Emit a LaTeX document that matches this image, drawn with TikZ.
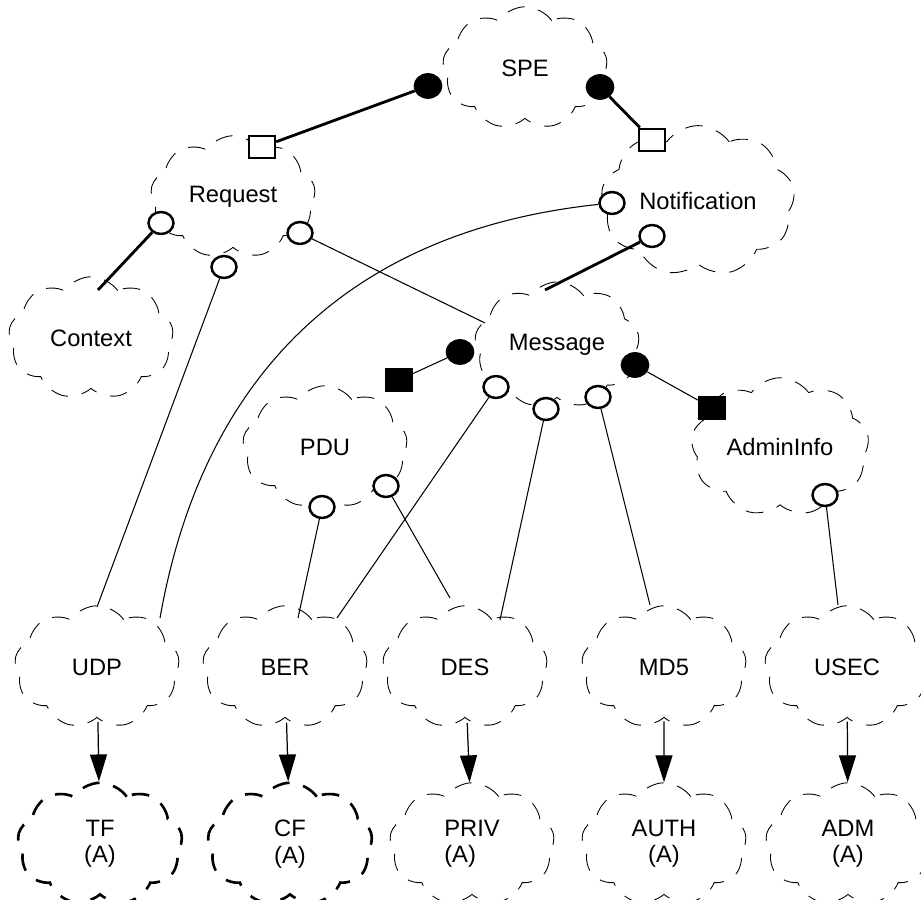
\documentclass[tikz,border=0pt]{standalone}
\usepackage{fontspec}
\setmainfont{Liberation Sans}
\usetikzlibrary{shapes.symbols,shapes.geometric,arrows.meta}

\begin{document}
\begin{tikzpicture}[
    font=\fontsize{13.5}{15}\selectfont,
    class/.style={cloud, cloud puffs=9, cloud puff arc=110, aspect=1.45, draw, dash pattern=on 10pt off 8pt, line width=0.5pt, minimum width=3.3cm, minimum height=2.45cm, align=center},
    utility/.style={class, line width=1.5pt},
    hasend/.style={ellipse, fill=black, draw, line width=1pt, minimum width=0.54cm, minimum height=0.48cm, inner sep=0pt},
    uses/.style={ellipse, fill=white, draw, line width=1.4pt, minimum width=0.5cm, minimum height=0.44cm, inner sep=0pt},
    byref/.style={rectangle, fill=white, draw, line width=1.4pt, minimum width=0.52cm, minimum height=0.45cm, inner sep=0pt},
    byval/.style={rectangle, fill=black, draw, line width=1pt, minimum width=0.52cm, minimum height=0.45cm, inner sep=0pt},
    link/.style={line width=0.6pt},
    strong/.style={line width=1.6pt},
    instantiate/.style={line width=0.7pt, -{Triangle[length=0.54cm, width=0.34cm]}, shorten <=2pt}
]
\useasboundingbox (0,0) rectangle (18.42,17.98);

% Classes
\node[class] (spe) at (10.5,16.62) {SPE};
\node[class] (request) at (4.66,14.04) {Request};
\node[class] (notification) at (13.96,13.96) {Notification};
\node[class] (context) at (1.82,11.22) {Context};
\node[class] (message) at (11.14,11.08) {Message};
\node[class] (pdu) at (6.5,9.04) {PDU};
\node[class] (admininfo) at (15.6,9.04) {AdminInfo};

\node[class] (udp) at (1.94,4.64) {UDP};
\node[class] (ber) at (5.7,4.64) {BER};
\node[class] (des) at (9.3,4.64) {DES};
\node[class] (md5) at (13.28,4.64) {MD5};
\node[class] (usec) at (16.94,4.64) {USEC};

% Utilities
\node[utility] (tf) at (2.0,1.1) {TF\\(A)};
\node[utility] (cf) at (5.8,1.1) {CF\\(A)};
\node[class, align=left] (priv) at (9.44,1.1) {PRIV\\(A)};
\node[class] (auth) at (13.28,1.1) {AUTH\\(A)};
\node[class] (adm) at (16.96,1.1) {ADM\\(A)};

% Free ends
\coordinate (context-top) at (1.96,12.18);
\coordinate (udp-top) at (1.94,5.84);
\coordinate (udp-right) at (3.2,5.62);
\coordinate (message-left) at (9.7,11.52);
\coordinate (message-top) at (10.9,12.18);
\coordinate (ber-top) at (5.96,5.62);
\coordinate (ber-right) at (6.74,5.62);
\coordinate (des-left) at (9.0,6.02);
\coordinate (des-top) at (10.0,5.58);
\coordinate (md5-top) at (13.0,5.88);
\coordinate (usec-top) at (16.76,5.88);

% Has relationships
\node[hasend] (spe-l) at (8.56,16.26) {};
\node[byref] (request-ref) at (5.24,15.04) {};
\draw[strong] (spe-l) -- (request-ref);

\node[hasend] (spe-r) at (12.0,16.24) {};
\node[byref] (notification-ref) at (13.04,15.18) {};
\draw[strong] (spe-r) -- (notification-ref);

\node[hasend] (message-l) at (9.2,10.94) {};
\node[byval] (pdu-val) at (7.98,10.38) {};
\draw[link] (message-l) -- (pdu-val);

\node[hasend] (message-r) at (12.7,10.68) {};
\node[byval] (admininfo-val) at (14.24,9.82) {};
\draw[link] (message-r) -- (admininfo-val);

% Using relationships
\node[uses] (request-u1) at (3.22,13.52) {};
\node[uses] (request-u2) at (4.48,12.64) {};
\node[uses] (request-u3) at (6.0,13.32) {};
\draw[strong] (request-u1) -- (context-top);
\draw[link] (request-u2) -- (udp-top);
\draw[link] (request-u3) -- (message-left);

\node[uses] (notification-u1) at (12.24,13.92) {};
\node[uses] (notification-u2) at (13.04,13.26) {};
\draw[link] (notification-u1) to[out=186, in=80, looseness=1.05] (udp-right);
\draw[strong] (notification-u2) -- (message-top);

\node[uses] (message-u1) at (9.92,10.24) {};
\node[uses] (message-u2) at (10.92,9.8) {};
\node[uses] (message-u3) at (11.96,10.04) {};
\draw[link] (message-u1) -- (ber-right);
\draw[link] (message-u2) -- (des-top);
\draw[link] (message-u3) -- (md5-top);

\node[uses] (pdu-u1) at (6.44,7.84) {};
\node[uses] (pdu-u2) at (7.72,8.26) {};
\draw[link] (pdu-u1) -- (ber-top);
\draw[link] (pdu-u2) -- (des-left);

\node[uses] (admininfo-u) at (16.5,8.08) {};
\draw[link] (admininfo-u) -- (usec-top);

% Instantiation
\draw[instantiate] (udp) -- (tf);
\draw[instantiate] (ber) -- (cf);
\draw[instantiate] (des) -- (priv);
\draw[instantiate] (md5) -- (auth);
\draw[instantiate] (usec) -- (adm);

\end{tikzpicture}
\end{document}
